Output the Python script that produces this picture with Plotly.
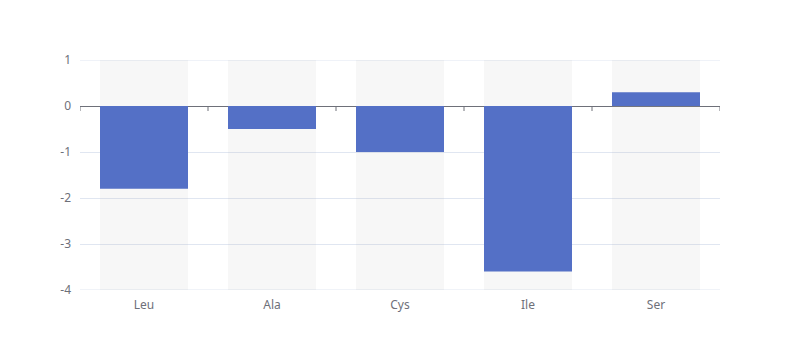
import plotly.graph_objects as go

categories = ["Leu", "Ala", "Cys", "Ile", "Ser"]
values = [-1.8, -0.5, -1.0, -3.6, 0.3]
y_min, y_max = -4, 1
y_ticks = [1, 0, -1, -2, -3, -4]

bg_color = "rgba(180,180,180,0.1)"
bar_color = "#5470c6"
axis_color = "#6E7079"
grid_color = "#E0E6F1"

fig = go.Figure()
fig.add_trace(go.Bar(
    x=categories, y=[y_max - y_min] * len(categories), base=[y_min] * len(categories),
    marker=dict(color=bg_color, line=dict(width=0)), hoverinfo="skip", showlegend=False,
))
fig.add_trace(go.Bar(
    x=categories, y=values,
    marker=dict(color=bar_color, line=dict(width=0)), showlegend=False,
))

# tick marks on the zero axis line at category boundaries
shapes = []
for i in range(len(categories) + 1):
    shapes.append(dict(
        type="line", xref="x", yref="y", ysizemode="pixel", yanchor=0,
        x0=i - 0.5, x1=i - 0.5, y0=0, y1=-5,
        line=dict(color=axis_color, width=1),
    ))
# edge grid lines (top and bottom of value range)
for yv in (y_min, y_max):
    shapes.append(dict(
        type="line", xref="paper", yref="y", x0=0, x1=1, y0=yv, y1=yv,
        line=dict(color=grid_color, width=1), layer="below",
    ))

fig.update_layout(
    width=800, height=360,
    margin=dict(l=72, r=88, t=52, b=78),
    paper_bgcolor="white", plot_bgcolor="white",
    barmode="overlay", bargap=0.3125,
    font=dict(family="Noto Sans, DejaVu Sans, sans-serif", size=12, color=axis_color),
    shapes=shapes,
    xaxis=dict(
        range=[-0.5, len(categories) - 0.5], showgrid=False, showline=False,
        ticks="", zeroline=False, tickfont=dict(size=12, color=axis_color),
        ticklabelstandoff=6, fixedrange=True,
    ),
    yaxis=dict(
        range=[y_min, y_max], tickvals=y_ticks, ticktext=[str(t) for t in y_ticks],
        showgrid=True, gridcolor=grid_color, gridwidth=1,
        zeroline=True, zerolinecolor=axis_color, zerolinewidth=1,
        showline=False, ticks="", ticklabelstandoff=8,
        tickfont=dict(size=12, color=axis_color),
    ),
)

fig.write_html("out.html")
